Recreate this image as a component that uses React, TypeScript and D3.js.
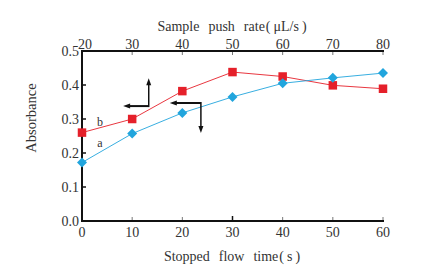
import React from "react";
import * as d3 from "d3";

const timeTicks = [0, 10, 20, 30, 40, 50, 60];
const rateTicks = [20, 30, 40, 50, 60, 70, 80];
const yTicks = [0.0, 0.1, 0.2, 0.3, 0.4, 0.5];
const seriesB = [0.26, 0.30, 0.382, 0.438, 0.425, 0.399, 0.389];
const seriesA = [0.172, 0.257, 0.318, 0.365, 0.405, 0.421, 0.435];
// arrows: [corner x, corner y, horizontal end x, vertical end y]
const arrowB = [13.3, 0.338, 8.2, 0.42];
const arrowA = [23.7, 0.347, 17.5, 0.259];

const W = 424, H = 271;
const L = 82, R = 383, T = 51, B = 221;
const font = "'Liberation Serif', 'DejaVu Serif', serif";

export default function App() {
  const x = d3.scaleLinear().domain([0, 60]).range([L, R]);
  const xTop = d3.scaleLinear().domain([20, 80]).range([L, R]);
  const y = d3.scaleLinear().domain([0, 0.5]).range([B, T]);
  const line = d3.line<number>().x((_, i) => x(timeTicks[i])).y((d) => y(d));
  const red = "#e5202a";
  const blue = "#21a5dd";
  const s = 8.5;

  const arrow = (a: number[], key: string) => {
    const cx = x(a[0]), cy = y(a[1]), hx = x(a[2]), vy = y(a[3]);
    const up = vy < cy;
    return (
      <g key={key}>
        <line x1={cx} y1={cy} x2={hx + 4} y2={cy} stroke="#111" strokeWidth={2} />
        <line x1={cx} y1={cy + (up ? 1 : -1)} x2={cx} y2={vy + (up ? 4 : -4)} stroke="#111" strokeWidth={1.5} />
        <path d={`M${hx},${cy} L${hx + 7},${cy - 2.5} L${hx + 7},${cy + 2.5} Z`} fill="#111" />
        <path d={up ? `M${cx},${vy} L${cx - 2.5},${vy + 7} L${cx + 2.5},${vy + 7} Z` : `M${cx},${vy} L${cx - 2.5},${vy - 7} L${cx + 2.5},${vy - 7} Z`} fill="#111" />
      </g>
    );
  };

  return (
    <svg width={W} height={H} style={{ position: "absolute", left: 0, top: 0, background: "#fff" }} fontFamily={font}>
      {yTicks.map((t) => (
        <g key={"y" + t}>
          <line x1={L} x2={L + 4} y1={y(t)} y2={y(t)} stroke="#111" strokeWidth={1.5} />
          <text x={L - 3} y={y(t) + 4.5} textAnchor="end" fontSize={14} fill="#333">{t.toFixed(1)}</text>
        </g>
      ))}
      {timeTicks.map((t) => (
        <g key={"b" + t}>
          {t > 0 && <line x1={x(t)} x2={x(t)} y1={B} y2={B - (t === 30 ? 5 : 4)} stroke={t === 30 ? "#111" : "#777"} strokeWidth={t === 30 ? 1.5 : 1} />}
          <text x={x(t)} y={237} textAnchor="middle" fontSize={14} fill="#333">{t}</text>
        </g>
      ))}
      {rateTicks.map((t) => (
        <g key={"t" + t}>
          {t > 20 && <line x1={xTop(t)} x2={xTop(t)} y1={T} y2={T + 4} stroke="#777" strokeWidth={1} />}
          <text x={xTop(t) + (t === 20 ? 3 : 0)} y={49} textAnchor="middle" fontSize={14} fill="#333">{t}</text>
        </g>
      ))}
      <line x1={L} x2={L} y1={T - 1} y2={B + 1} stroke="#111" strokeWidth={2} />
      <line x1={L - 1} x2={R + 1} y1={B} y2={B} stroke="#111" strokeWidth={2} />
      <line x1={L - 1} x2={R + 1} y1={T} y2={T} stroke="#111" strokeWidth={2} />

      <path d={line(seriesB) || ""} fill="none" stroke={red} strokeWidth={0.9} />
      <path d={line(seriesA) || ""} fill="none" stroke={blue} strokeWidth={0.9} />
      {seriesB.map((v, i) => (
        <rect key={"rb" + i} x={x(timeTicks[i]) - s / 2} y={y(v) - s / 2} width={s} height={s} fill={red} />
      ))}
      {seriesA.map((v, i) => (
        <path key={"da" + i} d={`M${x(timeTicks[i])},${y(v) - 5} l5,5 l-5,5 l-5,-5 Z`} fill={blue} />
      ))}

      {arrow(arrowB, "ab")}
      {arrow(arrowA, "aa")}

      <text x={100} y={126} textAnchor="middle" fontSize={12} fill="#333">b</text>
      <text x={100} y={147} textAnchor="middle" fontSize={12} fill="#333">a</text>

      <text x={232} y={31} textAnchor="middle" fontSize={14} fill="#333">
        <tspan>Sample</tspan>
        <tspan dx={9}>push</tspan>
        <tspan dx={9}>rate</tspan>
        <tspan dx={1}>(</tspan>
        <tspan dx={3}>μL/s</tspan>
        <tspan dx={3}>)</tspan>
      </text>
      <text x={232} y={261} textAnchor="middle" fontSize={14} fill="#333">
        <tspan>Stopped</tspan>
        <tspan dx={9}>flow</tspan>
        <tspan dx={9}>time</tspan>
        <tspan dx={1}>(</tspan>
        <tspan dx={3}>s</tspan>
        <tspan dx={3}>)</tspan>
      </text>
      <text transform={`translate(36,118) rotate(-90)`} textAnchor="middle" fontSize={14.5} fill="#333">
        Absorbance
      </text>
    </svg>
  );
}
